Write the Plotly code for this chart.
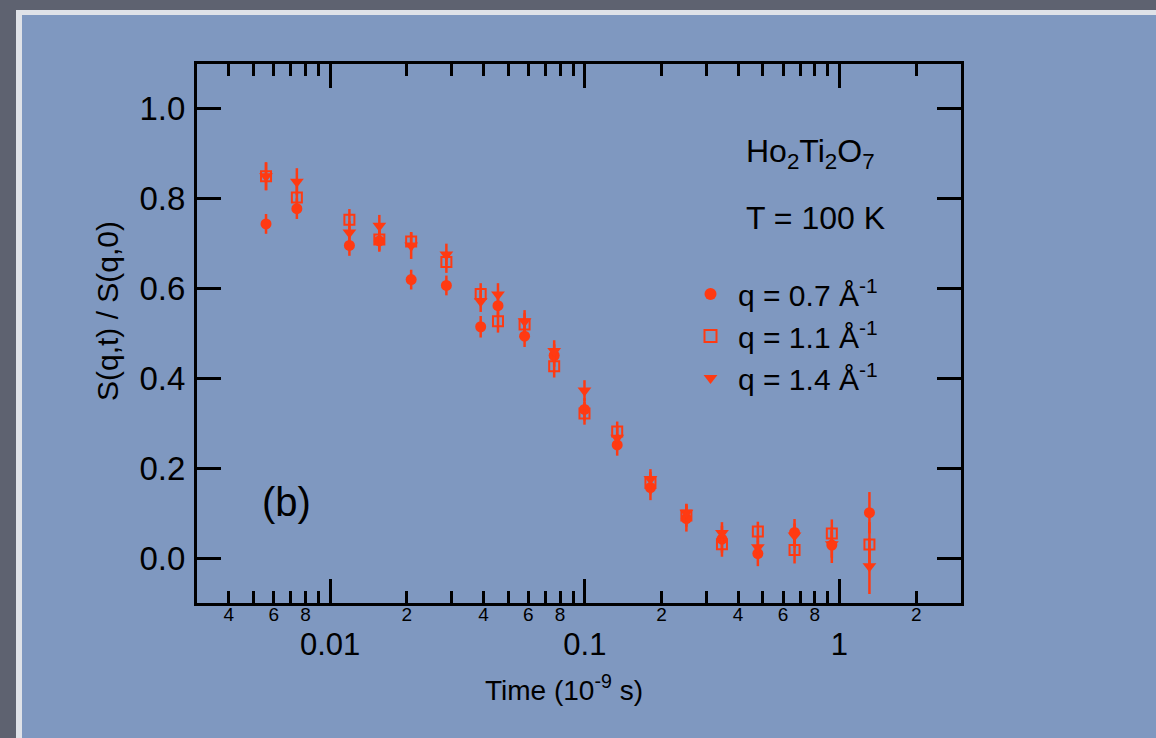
import plotly.graph_objects as go
import numpy as np

# ---------------- data ----------------
time_ns = [0.0056, 0.0074, 0.0119, 0.0156, 0.0208, 0.0286, 0.039, 0.0456, 0.058,
           0.0758, 0.0997, 0.134, 0.181, 0.2505, 0.3455, 0.478, 0.666, 0.933, 1.311]

s_q07 = [0.744, 0.778, 0.696, 0.706, 0.620, 0.607, 0.515, 0.562, 0.494, 0.451,
         0.331, 0.252, 0.157, 0.088, 0.042, 0.010, 0.057, 0.029, 0.101]
e_q07 = [0.022, 0.023, 0.023, 0.024, 0.022, 0.022, 0.024, 0.025, 0.024, 0.025,
         0.025, 0.024, 0.028, 0.029, 0.030, 0.028, 0.030, 0.040, 0.046]

s_q11 = [0.850, 0.803, 0.753, 0.709, 0.705, 0.659, 0.588, 0.527, 0.520, 0.427,
         0.322, 0.282, 0.167, 0.095, 0.031, 0.059, 0.018, 0.055, 0.030]
e_q11 = [0.031, 0.025, 0.024, 0.024, 0.020, 0.024, 0.024, 0.025, 0.025, 0.025,
         0.025, 0.022, 0.025, 0.025, 0.028, 0.022, 0.030, 0.031, 0.050]

s_q14 = [0.850, 0.838, 0.725, 0.740, 0.696, 0.676, 0.572, 0.587, 0.527, 0.461,
         0.373, 0.268, 0.176, 0.101, 0.056, 0.024, 0.050, 0.031, -0.018]
e_q14 = [0.031, 0.030, 0.025, 0.024, 0.030, 0.024, 0.024, 0.025, 0.025, 0.024,
         0.023, 0.025, 0.022, 0.020, 0.024, 0.025, 0.027, 0.030, 0.062]

series_names = ["q = 0.7 Å<sup>-1</sup>", "q = 1.1 Å<sup>-1</sup>", "q = 1.4 Å<sup>-1</sup>"]

x_major_vals = [0.01, 0.1, 1]
x_major_text = ["0.01", "0.1", "1"]
x_minor_vals = [m * d for d in [0.001, 0.01, 0.1, 1] for m in range(2, 10)]
x_minor_label_vals = [0.004, 0.006, 0.008, 0.02, 0.04, 0.06, 0.08,
                      0.2, 0.4, 0.6, 0.8, 2]
x_minor_label_text = ["4", "6", "8", "2", "4", "6", "8", "2", "4", "6", "8", "2"]
y_tick_vals = [0.0, 0.2, 0.4, 0.6, 0.8, 1.0]
x_range = [0.003, 3]
y_range = [-0.1, 1.1]

# ---------------- style ----------------
RED = "#ff3a12"
FONT = "Liberation Sans, Arial, Helvetica, sans-serif"
W, H = 1156, 738
ML, MR, MT, MB = 197, 195, 64, 135
PW, PH = W - ML - MR, H - MT - MB


def px_x(p):
    return (p - ML) / PW


def px_y(p):
    return (H - MB - p) / PH


fig = go.Figure()

err_style = dict(type="data", thickness=2.5, width=0, color=RED)

fig.add_trace(go.Scatter(
    x=time_ns, y=s_q07, mode="markers", name=series_names[0],
    error_y=dict(array=e_q07, **err_style),
    marker=dict(symbol="circle", size=11, color=RED, line=dict(width=0)),
    legendgroup="a"))
fig.add_trace(go.Scatter(
    x=time_ns, y=s_q11, mode="markers", name=series_names[1],
    error_y=dict(array=e_q11, **err_style),
    marker=dict(symbol="square-open", size=10, color=RED, line=dict(width=2, color=RED)),
    legendgroup="b"))
fig.add_trace(go.Scatter(
    x=time_ns, y=s_q14, mode="markers", name=series_names[2],
    error_y=dict(array=e_q14, **err_style),
    marker=dict(symbol="triangle-down", size=12, color=RED, line=dict(width=0)),
    legendgroup="c"))

# invisible trace on xaxis2 so the overlay axis (minor labels) is drawn
fig.add_trace(go.Scatter(x=[x_range[0]], y=[y_range[0]], xaxis="x2", yaxis="y",
                         mode="markers", marker=dict(opacity=0), showlegend=False,
                         hoverinfo="skip"))

axis_common = dict(showgrid=False, zeroline=False, linecolor="black", linewidth=3,
                   tickcolor="black", tickwidth=3, ticks="inside", ticklen=24,
                   mirror="ticks", showline=True)

fig.update_layout(
    width=W, height=H,
    margin=dict(l=ML, r=MR, t=MT, b=MB, pad=0),
    paper_bgcolor="#5e6270",
    plot_bgcolor="rgba(0,0,0,0)",
    font=dict(family=FONT, color="black"),
    xaxis=dict(type="log", range=[np.log10(x_range[0]), np.log10(x_range[1])],
               tickmode="array", tickvals=x_major_vals, ticktext=x_major_text,
               tickfont=dict(size=31, family=FONT, color="black"),
               ticklabelstandoff=12,
               minor=dict(tickmode="array", tickvals=x_minor_vals, ticks="inside",
                          ticklen=12, tickwidth=3, tickcolor="black", showgrid=False),
               **axis_common),
    xaxis2=dict(type="log", range=[np.log10(x_range[0]), np.log10(x_range[1])],
                overlaying="x", anchor="y", side="bottom",
                tickmode="array", tickvals=x_minor_label_vals, ticktext=x_minor_label_text,
                tickfont=dict(size=19, family=FONT, color="black"),
                ticklabelstandoff=-2,
                ticks="", showline=False, showgrid=False, zeroline=False),
    yaxis=dict(range=y_range, tickmode="array", tickvals=y_tick_vals,
               tickformat=".1f", tickfont=dict(size=33, family=FONT, color="black"),
               ticklabelstandoff=2,
               **axis_common),
    legend=dict(x=px_x(683), y=px_y(268), xanchor="left", yanchor="top",
                bgcolor="rgba(0,0,0,0)", borderwidth=0,
                font=dict(size=30, family=FONT, color="black"),
                tracegroupgap=0, itemsizing="constant", itemwidth=45),
    showlegend=True,
    shapes=[
        dict(type="rect", xref="paper", yref="paper", layer="below",
             x0=px_x(16), x1=px_x(W + 50), y0=px_y(H + 50), y1=px_y(10),
             fillcolor="#dfe2e8", line=dict(width=0)),
        dict(type="rect", xref="paper", yref="paper", layer="below",
             x0=px_x(22), x1=px_x(W + 50), y0=px_y(H + 50), y1=px_y(15),
             fillcolor="#7f98c0", line=dict(width=0)),
    ],
    annotations=[
        dict(text="Ho<sub>2</sub>Ti<sub>2</sub>O<sub>7</sub>", xref="paper", yref="paper",
             x=px_x(744), y=px_y(153), xanchor="left", yanchor="middle",
             showarrow=False, font=dict(size=32, family=FONT, color="black")),
        dict(text="T = 100 K", xref="paper", yref="paper",
             x=px_x(744), y=px_y(218), xanchor="left", yanchor="middle",
             showarrow=False, font=dict(size=32, family=FONT, color="black")),
        dict(text="(b)", xref="paper", yref="paper",
             x=px_x(260), y=px_y(502), xanchor="left", yanchor="middle",
             showarrow=False, font=dict(size=40, family=FONT, color="black")),
        dict(text="Time (10<sup>-9</sup> s)", xref="paper", yref="paper",
             x=px_x(564), y=px_y(688), xanchor="center", yanchor="middle",
             showarrow=False, font=dict(size=28, family=FONT, color="black")),
        dict(text="S(q,t) / S(q,0)", xref="paper", yref="paper", textangle=-90,
             x=px_x(107), y=px_y(311), xanchor="center", yanchor="middle",
             showarrow=False, font=dict(size=30, family=FONT, color="black")),
    ],
)

fig.write_html("out.html")
